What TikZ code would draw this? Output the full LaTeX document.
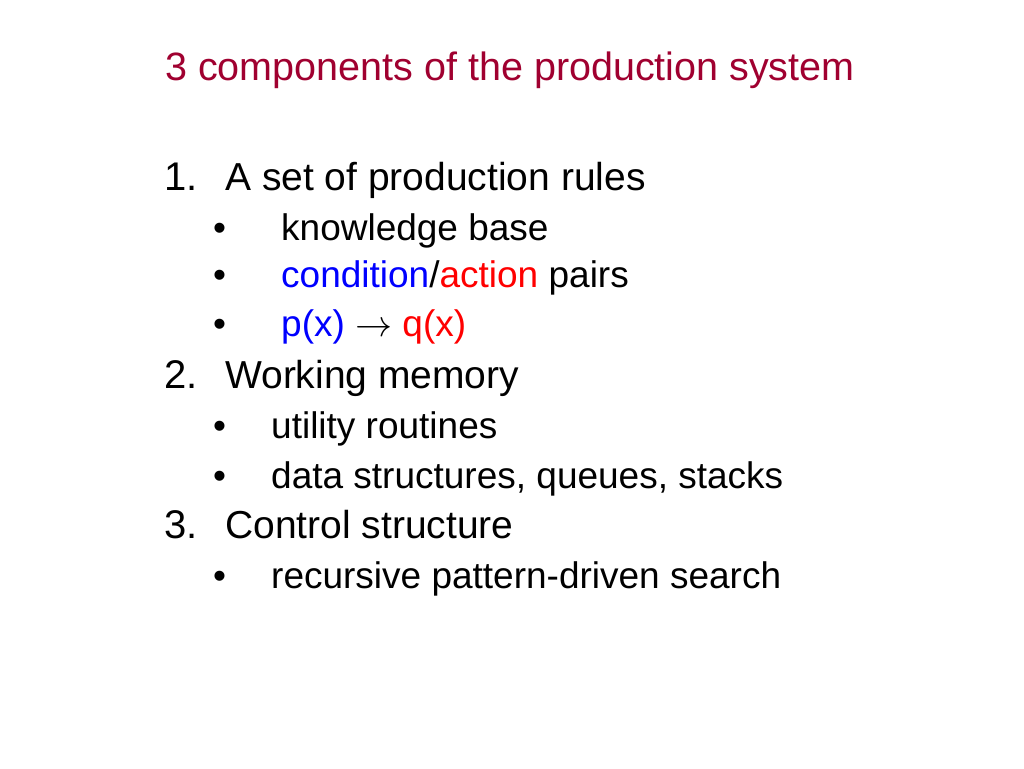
\RequirePackage{fix-cm}
\documentclass[tikz,border=0pt]{standalone}
\usepackage{fontspec}
\setmainfont{Liberation Sans}
\usetikzlibrary{positioning}

\definecolor{titlered}{RGB}{160,0,48}
\definecolor{condblue}{RGB}{0,0,255}
\definecolor{actred}{RGB}{255,0,0}

\tikzset{
  heading/.style={anchor=base west,inner sep=0pt,text=titlered,font=\fontsize{39.5}{40}\selectfont},
  number/.style={anchor=base west,inner sep=0pt,font=\fontsize{40}{40}\selectfont},
  item/.style={anchor=base west,inner sep=0pt,font=\fontsize{39}{40}\selectfont},
  dot/.style={anchor=base west,inner sep=0pt,font=\fontsize{37}{38}\selectfont},
  subitem/.style={anchor=base west,inner sep=0pt,font=\fontsize{37}{38}\selectfont}
}

\begin{document}
\begin{tikzpicture}[x=1pt,y=-1pt]
  \useasboundingbox[fill=white] (0,0) rectangle (1024,768);

  \node[heading] (title) at (165,80) {3 components of the production system};

  % rules
  \node[number]  (n1)        at (164,190) {1.};
  \node[item]    (rules)     at (225,190) {A set of production rules};
  \node[dot]     (b1)        at (213,240) {•};
  \node[subitem] (kbase)     at (281,240) {knowledge base};
  \node[dot]     (b2)        at (213,287) {•};
  \node[subitem] (pairs)     at (281,287) {\textcolor{condblue}{condition}/\textcolor{actred}{action} pairs};
  \node[dot]     (b3)        at (213,336) {•};
  \node[subitem] (pq)        at (281,336) {\textcolor{condblue}{p(x)} $\rightarrow$ \textcolor{actred}{q(x)}};

  % memory
  \node[number]  (n2)        at (164,388) {2.};
  \node[item]    (memory)    at (225,388) {Working memory};
  \node[dot]     (b4)        at (213,438) {•};
  \node[subitem] (utility)   at (271,438) {utility routines};
  \node[dot]     (b5)        at (213,488) {•};
  \node[subitem] (data)      at (271,488) {data structures, queues, stacks};

  % control
  \node[number]  (n3)        at (164,538) {3.};
  \node[item]    (control)   at (225,538) {Control structure};
  \node[dot]     (b6)        at (213,588) {•};
  \node[subitem] (search)    at (271,588) {recursive pattern-driven search};
\end{tikzpicture}
\end{document}
